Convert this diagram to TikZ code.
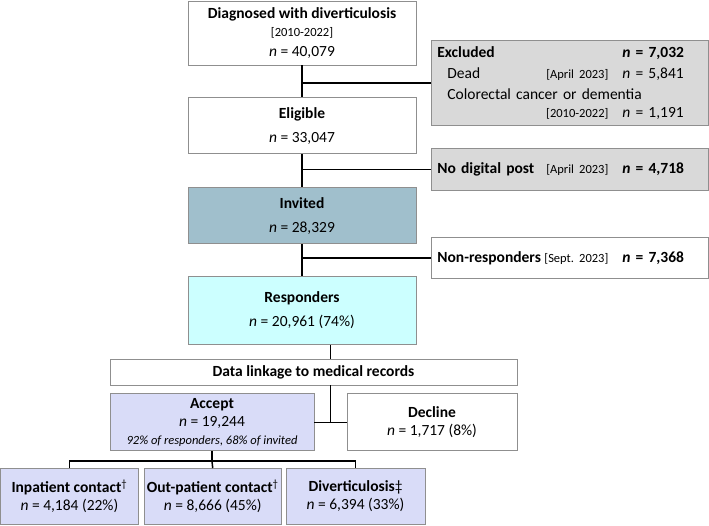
\documentclass[tikz,border=0pt]{standalone}
\usepackage{fontspec}
\setmainfont{Carlito}
\usepackage{xcolor}
\usepackage{tikz}
\usetikzlibrary{positioning,calc}
\definecolor{edgegray}{HTML}{8F8F8F}
\definecolor{exclgray}{HTML}{D9D9D9}
\definecolor{invblue}{HTML}{A0BFCC}
\definecolor{respcyan}{HTML}{CCFFFF}
\definecolor{acclav}{HTML}{D9DCF8}
\newcommand{\smallfont}{\fontsize{12.5}{15}\selectfont}
\newcommand{\nn}{\textit{n}}
\newcommand{\sideline}[3]{\makebox[171pt][l]{#1\hfill{\smallfont #2}}\hspace{14pt}#3}

\begin{document}
\begin{tikzpicture}[
  x=1pt, y=-1pt,
  every node/.style={draw=edgegray, line width=0.8pt, align=center, inner sep=0pt, font=\fontsize{15.5}{18}\selectfont},
  box/.style={fill=white, minimum width=228pt, minimum height=56pt},
  sidebox/.style={anchor=north west, minimum width=277pt, text width=265pt, inner xsep=6pt, align=left},
  invbox/.style={box, fill=invblue},
  respbox/.style={box, fill=respcyan, minimum height=68pt},
  accbox/.style={fill=acclav, minimum height=57pt},
  leaf/.style={fill=acclav, anchor=north west, minimum height=56pt},
  conn/.style={line width=1.5pt, black}
]
  \useasboundingbox (0,0) rectangle (709,525);

  % main column
  \node[box, minimum height=64pt] (diag) at (302,33) {\textbf{Diagnosed with diverticulosis}\\{\smallfont [2010-2022]}\\[2pt]\nn{} = 40,079};
  \node[box, below=32pt of diag] (elig) {\textbf{Eligible}\\[6pt]\nn{} = 33,047};
  \node[invbox, below=33pt of elig] (invited) {\textbf{Invited}\\[6pt]\nn{} = 28,329};
  \node[respbox, below=32pt of invited] (resp) {\textbf{Responders}\\[6pt]\nn{} = 20,961 (74\%)};

  % side boxes
  \node[sidebox, fill=exclgray, minimum height=85pt] (excl) at (431,40) {%
    \sideline{\textbf{Excluded}}{}{\textbf{\nn{} = 7,032}}\\[3pt]
    \sideline{\hspace{10pt}Dead}{[April 2023]}{\nn{} = 5,841}\\[3pt]
    \hspace{10pt}Colorectal cancer or dementia\\
    \sideline{}{[2010-2022]}{\nn{} = 1,191}};
  \node[sidebox, fill=exclgray, minimum height=42pt] (nodig) at (431,148) {\sideline{\textbf{No digital post}}{[April 2023]}{\textbf{\nn{} = 4,718}}};
  \node[sidebox, fill=white, minimum height=41pt] (nonresp) at (431,237) {\sideline{\textbf{Non-responders}}{[Sept.\ 2023]}{\textbf{\nn{} = 7,368}}};

  % data linkage
  \node[fill=white, minimum width=407pt, minimum height=26pt] (link) at (313.5,372) {\textbf{Data linkage to medical records}};
  \node[accbox, minimum width=204pt, below=8pt of link.south west, anchor=north west] (accept) {\textbf{Accept}\\\nn{} = 19,244\\{\smallfont\itshape 92\% of responders, 68\% of invited}};
  \node[fill=white, minimum width=170pt, minimum height=57pt, below=8pt of link.south east, anchor=north east] (decline) {\textbf{Decline}\\\nn{} = 1,717 (8\%)};

  % outcomes
  \node[leaf, minimum width=138pt] (inpat) at (0,468) {\textbf{Inpatient contact}\textsuperscript{†}\\\nn{} = 4,184 (22\%)};
  \node[leaf, minimum width=137pt, right=5pt of inpat.north east, anchor=north west] (outpat) {\textbf{Out-patient contact}\textsuperscript{†}\\\nn{} = 8,666 (45\%)};
  \node[leaf, minimum width=139pt, right=4pt of outpat.north east, anchor=north west] (divert) {\textbf{Diverticulosis}‡\\\nn{} = 6,394 (33\%)};

  \coordinate (split) at ($(accept.east)!0.5!(decline.west)$);

  \draw[conn] (diag) -- (elig);
  \draw[conn] (elig) -- (invited);
  \draw[conn] (invited) -- (resp);
  \draw[conn] (excl.west) -- (excl.west -| diag.south);
  \draw[conn] (nodig.west) -- (nodig.west -| elig.south);
  \draw[conn] (nonresp.west) -- (nonresp.west -| invited.south);

  \draw[conn] (resp.south -| split) -- (link.north -| split);
  \draw[conn] (link.south -| split) -- (split);
  \draw[conn] (accept.east) -- (decline.west);

  \draw[conn] (accept.south) -- ++(0,10) coordinate (fork);
  \draw[conn] (inpat.north) |- (fork) -| (divert.north);
  \draw[conn] (fork) -- (outpat.north);
\end{tikzpicture}
\end{document}
